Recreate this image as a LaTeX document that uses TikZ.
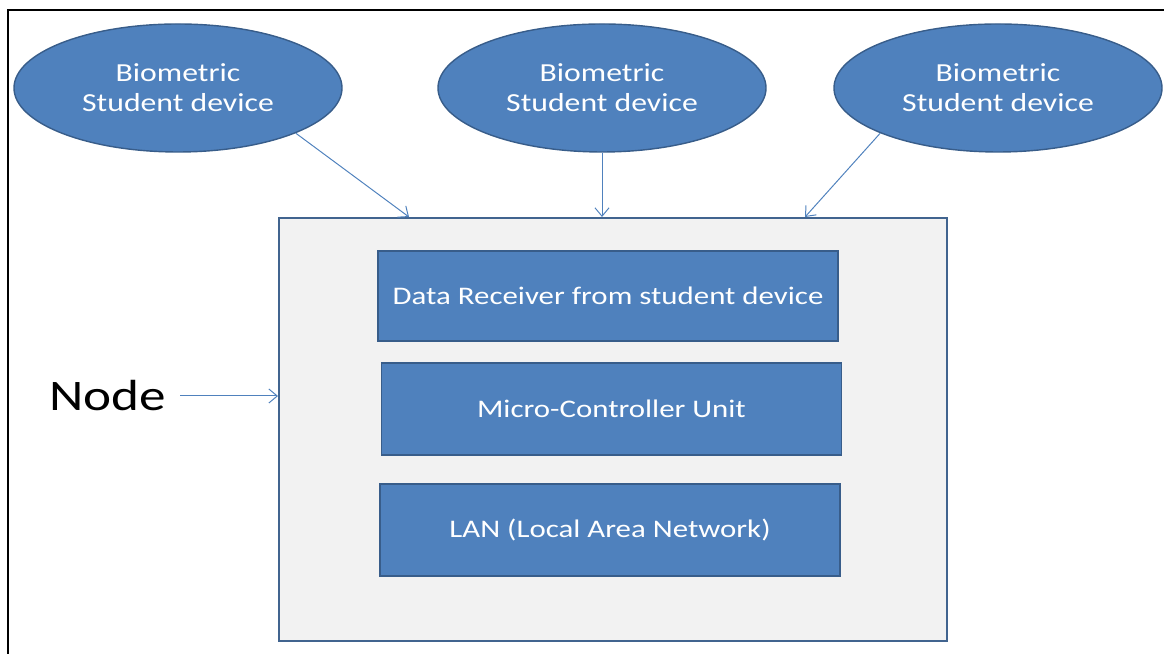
\documentclass[tikz,border=0pt]{standalone}
\usepackage{fontspec}
\setmainfont[FakeStretch=1.22]{Carlito}
\usetikzlibrary{shapes.geometric,arrows.meta}
\definecolor{boxblue}{HTML}{4F81BD}
\definecolor{boxedge}{HTML}{385D8A}
\definecolor{outeredge}{HTML}{41648F}
\definecolor{outerfill}{HTML}{F2F2F2}
\tikzset{
  device/.style={ellipse,draw=boxedge,line width=1pt,fill=boxblue,text=white,
    minimum width=8.2cm,minimum height=3.2cm,inner sep=0pt,align=center,
    font=\fontsize{18.5}{21.5}\selectfont},
  unit/.style={rectangle,draw=boxedge,line width=1.4pt,fill=boxblue,text=white,
    minimum width=11.5cm,minimum height=2.3cm,inner sep=0pt,
    font=\fontsize{18}{21}\selectfont},
  link/.style={draw=boxblue,line width=0.7pt,-{Straight Barb[length=6pt,width=10pt]}}
}
\begin{document}
\begin{tikzpicture}
\useasboundingbox (0,0) rectangle (29.1,16.35);
\draw[line width=0.8pt] (0.2,0)--(0.2,16.1)--(29.1,16.1);

\node[device] (e1) at (4.45,14.15) {Biometric\\Student device};
\node[device] (e2) at (15.05,14.15) {Biometric\\Student device};
\node[device] (e3) at (24.95,14.15) {Biometric\\Student device};

\node[rectangle,draw=outeredge,line width=1.4pt,fill=outerfill,minimum width=16.7cm,
  minimum height=10.575cm,inner sep=0pt] (outer) at (15.325,5.6125) {};

\node[unit,minimum height=2.25cm] (recv) at (15.2,8.95) {Data Receiver from student device};
\node[unit] (mcu) at (15.2875,6.125) {Micro-Controller Unit};
\node[unit] (lan) at (15.25,3.1) {LAN (Local Area Network)};

\node[font=\fontsize{31}{36}\selectfont] (lbl) at (2.7,6.45) {Node};

\draw[link] (e1.-21)--([xshift=3.275cm]outer.north west);
\draw[link] (e2.south)--(e2.south |- outer.north);
\draw[link] (e3.201)--([xshift=13.175cm]outer.north west);
\draw[link] (4.5,6.45)--(outer.west |- 4.5,6.45);
\end{tikzpicture}
\end{document}
